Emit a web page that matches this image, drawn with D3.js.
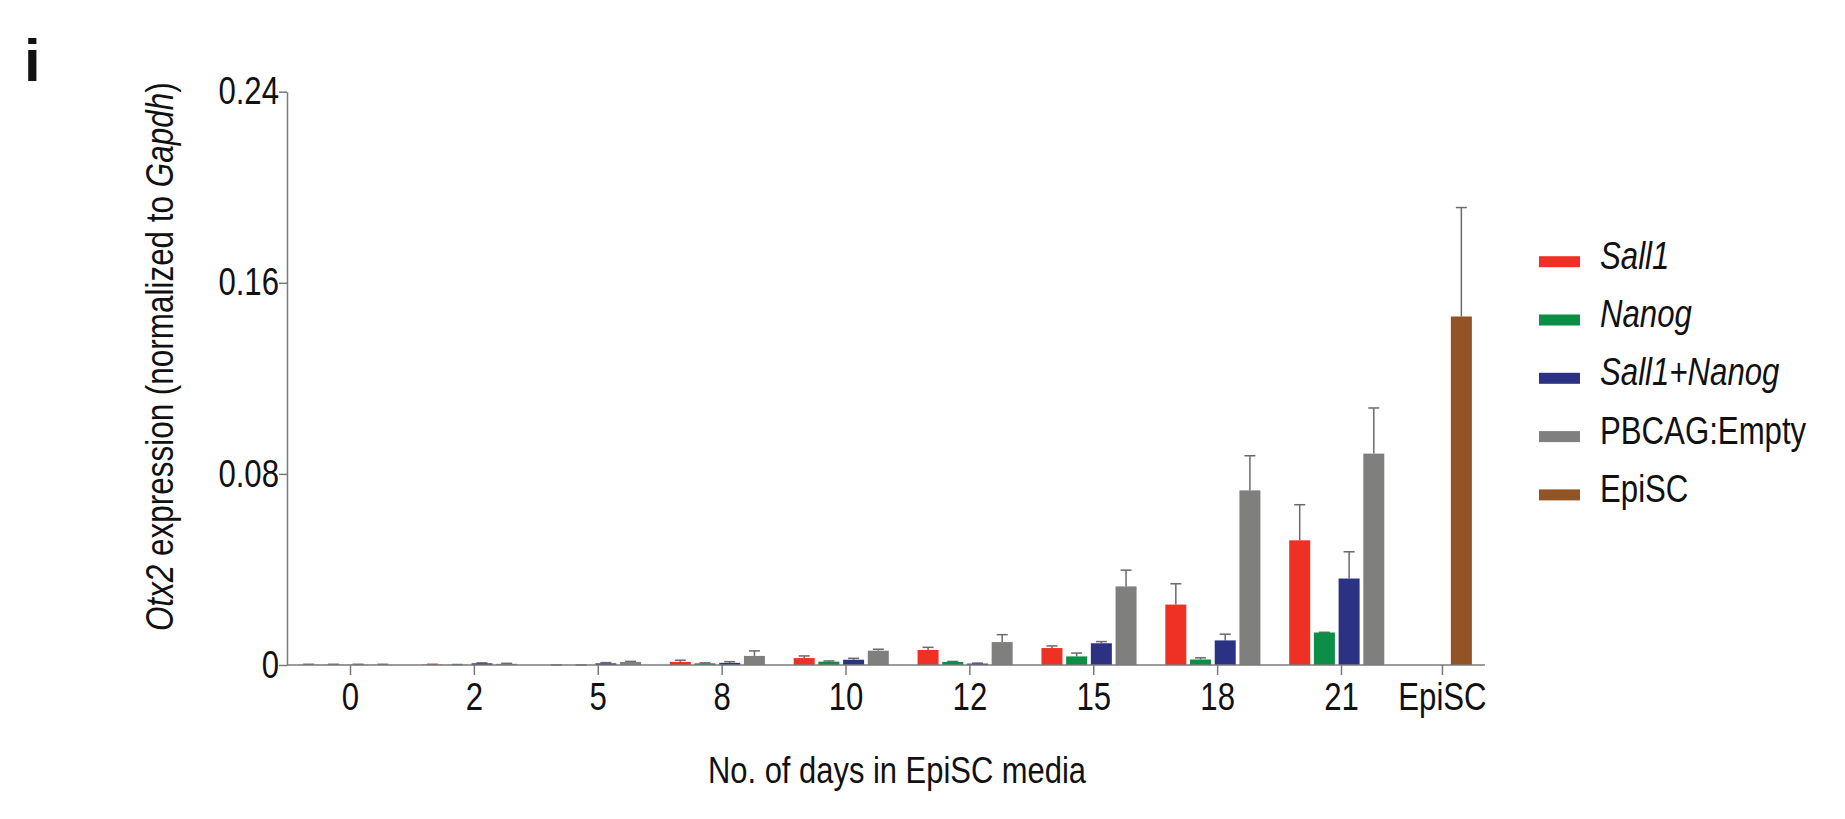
<!DOCTYPE html>
<html><head><meta charset="utf-8">
<script src="https://cdn.jsdelivr.net/npm/d3@7/dist/d3.min.js"></script>
<style>
html,body{margin:0;padding:0;background:#fff;}
svg{display:block;}
text{font-family:"Liberation Sans",Arial,Helvetica,sans-serif;fill:#111;}
</style></head>
<body>
<svg id="chart" width="1845" height="819"></svg>
<script>
// ---- data ----
const categories = ["0","2","5","8","10","12","15","18","21","EpiSC"];
const dayCategories = ["0","2","5","8","10","12","15","18","21"];
const seriesNames = ["Sall1","Nanog","Sall1+Nanog","PBCAG:Empty","EpiSC"];
const seriesItalic = [true,true,true,false,false];
const seriesColors = ["#EE3124","#0B8E45","#2B3183","#7F7F7D","#935425"];

const sall1        = [0.0001,0.0002,0.0000,0.0013,0.0029,0.0063,0.0071,0.0253,0.0522];
const sall1Err     = [0.0002,0.0001,0.0000,0.0007,0.0009,0.0011,0.0009,0.0087,0.0149];
const nanog        = [0.0001,0.0001,0.0000,0.0007,0.0014,0.0013,0.0036,0.0023,0.0136];
const nanogErr     = [0.0002,0.0001,0.0000,0.0002,0.0003,0.0002,0.0014,0.0007,0.0001];
const sall1Nanog   = [0.0001,0.0007,0.0007,0.0009,0.0022,0.0006,0.0091,0.0103,0.0362];
const sall1NanogErr= [0.0002,0.0002,0.0003,0.0005,0.0006,0.0002,0.0007,0.0026,0.0112];
const pbcagEmpty   = [0.0001,0.0005,0.0013,0.0038,0.0060,0.0096,0.0329,0.0731,0.0885];
const pbcagEmptyErr= [0.0002,0.0002,0.0002,0.0021,0.0006,0.0031,0.0068,0.0145,0.0191];
const episcValue   = [0.1459];
const episcErr     = [0.0456];

const yTicks = [0, 0.08, 0.16, 0.24];
const yTickLabels = ["0","0.08","0.16","0.24"];

// ---- layout ----
const svg = d3.select("#chart");
const axisColor = "#7a7a7a";
const errColor = "#6a6a6a";
const narrow = 0.82;           // horizontal condensing of text (Helvetica Condensed look)
const yAxisX = 287;
const y = d3.scaleLinear().domain([0, 0.24]).range([665, 91.7]);
const xi = d3.scaleLinear().domain([0, 8]).range([350, 1341]);
const episcIndex = 8.815;
const x = d3.scaleOrdinal().domain(categories)
  .range(categories.map((c, i) => xi(i < dayCategories.length ? i : episcIndex)));
const slot = d3.scaleBand().domain(seriesNames.slice(0, 4))
  .range([-53.65, 45.15]).paddingInner(0.15).paddingOuter(0.075);
const bw = slot.bandwidth();
const capW = 11;

const daySeries = [
  {vals: sall1, errs: sall1Err},
  {vals: nanog, errs: nanogErr},
  {vals: sall1Nanog, errs: sall1NanogErr},
  {vals: pbcagEmpty, errs: pbcagEmptyErr}
];

const bars = [];
daySeries.forEach((s, k) => {
  dayCategories.forEach((c, i) => {
    bars.push({cx: x(c) + slot(seriesNames[k]) + bw / 2, v: s.vals[i], e: s.errs[i], color: seriesColors[k]});
  });
});
bars.push({cx: x("EpiSC") + 19.4, v: episcValue[0], e: episcErr[0], color: seriesColors[4]});

// error bars (under bars)
const eg = svg.append("g").attr("stroke", errColor).attr("stroke-width", 1.5);
bars.forEach(b => {
  const top = y(b.v + b.e);
  eg.append("line").attr("x1", b.cx).attr("x2", b.cx).attr("y1", y(b.v)).attr("y2", top);
  eg.append("line").attr("x1", b.cx - capW/2).attr("x2", b.cx + capW/2).attr("y1", top).attr("y2", top);
});

svg.append("g").selectAll("rect").data(bars).join("rect")
  .attr("x", d => d.cx - bw / 2)
  .attr("width", bw)
  .attr("y", d => y(d.v))
  .attr("height", d => y(0) - y(d.v))
  .attr("fill", d => d.color);

function condense(sel) {
  sel.each(function() {
    const t = d3.select(this);
    const xv = +(t.attr("x") || 0);
    t.attr("x", xv / narrow).attr("transform", `scale(${narrow},1)`);
  });
}

// y axis
const yAxis = svg.append("g").attr("transform", `translate(${yAxisX},0)`)
  .call(d3.axisLeft(y).tickValues(yTicks).tickFormat((d, i) => yTickLabels[i]).tickSize(8).tickSizeOuter(0).tickPadding(0));
yAxis.attr("font-family", null).attr("font-size", null);
yAxis.select(".domain").attr("stroke", axisColor).attr("stroke-width", 1.5);
yAxis.selectAll(".tick line").attr("stroke", axisColor).attr("stroke-width", 1.5);
yAxis.selectAll(".tick text").attr("font-size", 38).attr("fill", "#111").call(condense);

// x axis
const xAxis = svg.append("g").attr("transform", `translate(0,${y(0)})`)
  .call(d3.axisBottom(x).tickSize(10).tickSizeOuter(0).tickPadding(8));
xAxis.attr("font-family", null).attr("font-size", null);
xAxis.select(".domain").remove();
xAxis.selectAll(".tick line").attr("stroke", axisColor).attr("stroke-width", 1.5);
xAxis.selectAll(".tick text").attr("font-size", 38).attr("fill", "#111").call(condense);
svg.append("line").attr("x1", yAxisX).attr("x2", x("EpiSC") + 43)
  .attr("y1", y(0)).attr("y2", y(0)).attr("stroke", axisColor).attr("stroke-width", 1.5);

// axis titles
svg.append("text").attr("transform", "translate(897,782.7) scale(0.836,1)")
  .attr("text-anchor", "middle").attr("font-size", 37).text("No. of days in EpiSC media");

const yt = svg.append("text").attr("transform", "translate(172.7,356.7) rotate(-90) scale(0.817,1)")
  .attr("text-anchor", "middle").attr("font-size", 38.5);
yt.append("tspan").attr("font-style", "italic").text("Otx2");
yt.append("tspan").text(" expression (normalized to ");
yt.append("tspan").attr("font-style", "italic").text("Gapdh");
yt.append("tspan").text(")");

// panel label
svg.append("text").attr("x", 24).attr("y", 81).attr("font-size", 60)
  .attr("font-weight", "bold").text("i");

// legend
const lg = svg.append("g");
seriesNames.forEach((n, i) => {
  const cy = 261.7 + i * 58.3;
  lg.append("rect").attr("x", 1539).attr("y", cy - 5.5).attr("width", 41).attr("height", 11).attr("fill", seriesColors[i]);
  lg.append("text").attr("transform", `translate(1600,${cy + 7}) scale(0.8,1)`).attr("font-size", 39)
    .attr("font-style", seriesItalic[i] ? "italic" : "normal").text(n);
});
</script>
</body></html>
